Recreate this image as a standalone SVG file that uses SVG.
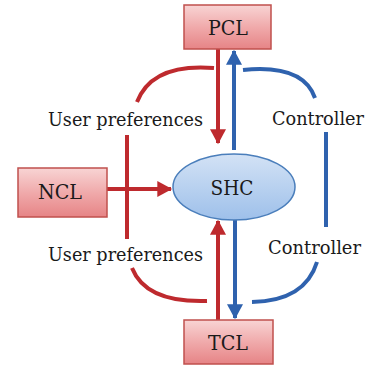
<svg xmlns="http://www.w3.org/2000/svg" width="369" height="369" viewBox="0 0 369 369">
<defs>
<linearGradient id="gBox" x1="0" y1="0" x2="0" y2="1">
<stop offset="0" stop-color="#f8d4d4"/>
<stop offset="0.5" stop-color="#f0aaab"/>
<stop offset="1" stop-color="#e68486"/>
</linearGradient>
<linearGradient id="gEll" x1="0" y1="0" x2="0" y2="1">
<stop offset="0" stop-color="#d3e2f5"/>
<stop offset="1" stop-color="#9ec0ea"/>
</linearGradient>
<marker id="aR" markerUnits="userSpaceOnUse" markerWidth="16" markerHeight="16" viewBox="0 0 14 14" refX="12" refY="7" orient="auto">
<path d="M0,0 L13,7 L0,14 Z" fill="#be2a2e"/>
</marker>
<marker id="aB" markerUnits="userSpaceOnUse" markerWidth="16" markerHeight="16" viewBox="0 0 14 14" refX="12" refY="7" orient="auto">
<path d="M0,0 L13,7 L0,14 Z" fill="#2f62ae"/>
</marker>
</defs>
<style>
.box{fill:url(#gBox);stroke:#c0504d;stroke-width:1.5}
.nt{font-size:19.5px;fill:#1a1a1a;text-anchor:middle}
.lb{font-size:18px;fill:#1a1a1a}
.r{fill:none;stroke:#be2a2e;stroke-width:4}
.b{fill:none;stroke:#2f62ae;stroke-width:4}
</style>
<rect width="369" height="369" fill="#ffffff"/>
<g id="connectors">
<path class="r" d="M218,49 V143" marker-end="url(#aR)"/>
<path class="b" d="M234,150 V51" marker-end="url(#aB)"/>
<path class="r" d="M107,189 H171" marker-end="url(#aR)"/>
<path class="r" d="M218,320 V221" marker-end="url(#aR)"/>
<path class="b" d="M235,220 V318" marker-end="url(#aB)"/>
<path class="r" d="M214,68 Q152,63 137,102"/>
<path class="r" d="M127,135 V239"/>
<path class="r" d="M132,268 Q146,303 207,301"/>
<path class="b" d="M243,70 Q303,64 315,98"/>
<path class="b" d="M326,132 V227"/>
<path class="b" d="M317,262 Q305,301 252,302"/>
</g>
<g font-family="'DejaVu Serif', 'Liberation Serif', serif">
<g id="PCL">
<rect class="box" x="184" y="5" width="87" height="44"/>
<text class="nt" x="228" y="35" textLength="40" lengthAdjust="spacingAndGlyphs">PCL</text>
</g>
<g id="NCL">
<rect class="box" x="18" y="168" width="89" height="49"/>
<text class="nt" x="60" y="199" textLength="44" lengthAdjust="spacingAndGlyphs">NCL</text>
</g>
<g id="TCL">
<rect class="box" x="184" y="320" width="89" height="44"/>
<text class="nt" x="228" y="350" textLength="40" lengthAdjust="spacingAndGlyphs">TCL</text>
</g>
<g id="SHC">
<ellipse cx="234" cy="187" rx="61" ry="33" fill="url(#gEll)" stroke="#4a7ebb" stroke-width="1.5"/>
<text class="nt" x="232" y="195" font-size="20.5" textLength="43" lengthAdjust="spacingAndGlyphs">SHC</text>
</g>
<g id="labels">
<text class="lb" x="48" y="126" textLength="155" lengthAdjust="spacingAndGlyphs">User preferences</text>
<text class="lb" x="272" y="125" textLength="92" lengthAdjust="spacingAndGlyphs">Controller</text>
<text class="lb" x="48" y="261" textLength="155" lengthAdjust="spacingAndGlyphs">User preferences</text>
<text class="lb" x="268" y="254" textLength="93" lengthAdjust="spacingAndGlyphs">Controller</text>
</g>
</g>
</svg>
